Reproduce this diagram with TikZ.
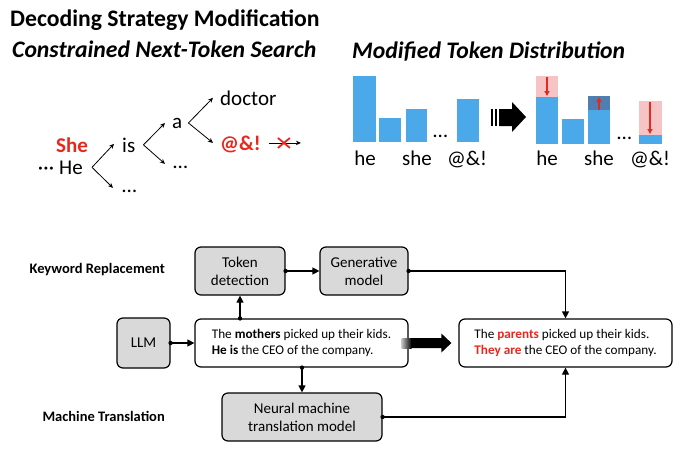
\documentclass[tikz,border=0pt]{standalone}
\usepackage{fontspec}
\setmainfont{Carlito}
\usetikzlibrary{arrows.meta,calc}
\definecolor{barblue}{HTML}{4BA9E9}
\definecolor{barpink}{HTML}{F6C4C4}
\definecolor{bardark}{HTML}{507EB1}
\definecolor{myred}{HTML}{E8281E}
\definecolor{boxgray}{HTML}{D9D9D9}
\begin{document}
\begin{tikzpicture}[x=1pt,y=-1pt,
  titlefont/.style={anchor=base west, inner sep=0pt, font=\fontsize{23.7}{28}\selectfont\bfseries},
  subfont/.style={anchor=base west, inner sep=0pt, font=\fontsize{23.7}{28}\selectfont\bfseries\itshape},
  tree/.style={font=\fontsize{21}{25}\selectfont, inner sep=0pt, anchor=base west},
  treebold/.style={tree, font=\fontsize{21}{25}\selectfont\bfseries, text=myred},
  treearrow/.style={-{Stealth[length=5pt,width=4.5pt]}, line width=0.8pt},
  barlabel/.style={font=\fontsize{21}{25}\selectfont, inner sep=0pt, anchor=base},
  redarrow/.style={myred, line width=1.3pt, -{Triangle[length=5pt,width=5pt]}},
  sidelabel/.style={anchor=base east, inner sep=0pt, font=\fontsize{14.5}{17}\selectfont\bfseries},
  box/.style={draw, line width=1.2pt, rounded corners=6pt, fill=boxgray, align=center,
    font=\fontsize{15}{18}\selectfont, inner sep=0pt},
  textbox/.style={box, fill=white, align=left, font=\fontsize{13.2}{15.5}\selectfont},
  conn/.style={line width=1.2pt, -{Triangle[length=7pt,width=7pt]}}
]
\useasboundingbox (0,0) rectangle (690,463);

% titles
\node[titlefont] (title) at (10,27) {Decoding Strategy Modification};
\node[subfont] (sub1) at (12,57) {Constrained Next-Token Search};
\node[subfont] (sub2) at (352,58) {Modified Token Distribution};

% tree
\node[treebold] (she) at (56,152) {She};
\node[tree, anchor=base east] (he) at (83,174) {·\hspace{0.3pt}·\hspace{0.3pt}·\hspace{5pt}He};
\node[tree] (is) at (122,152) {is};
\node[tree] (d1) at (122,192) {…};
\node[tree] (a) at (172,128) {a};
\node[tree] (d2) at (173,168) {…};
\node[tree] (doctor) at (220,105) {doctor};
\node[treebold] (sym) at (220,150) {@\&!};
\draw[treearrow] ($(he.east)+(9,0)$) -- ($(is.west)+(-8,-1)$);
\draw[treearrow] ($(he.east)+(9,0)$) -- ($(d1.west)+(-9,-3)$);
\draw[treearrow] ($(is.east)+(8,0)$) -- ($(a.west)+(-7,0)$);
\draw[treearrow] ($(is.east)+(8,0)$) -- ($(d2.west)+(-8,-3)$);
\draw[treearrow] ($(a.east)+(6,0)$) -- ($(doctor.west)+(-7,0)$);
\draw[treearrow] ($(a.east)+(6,0)$) -- ($(sym.west)+(-7,-1)$);
\coordinate (xend) at ($(sym.east)+(40,-1)$);
\draw[treearrow] ($(sym.east)+(8,-1)$) -- (xend);
\draw[myred, line width=1.8pt] ($(sym.east)+(17,-6)$) -- ($(sym.east)+(29,4)$);
\draw[myred, line width=1.8pt] ($(sym.east)+(17,4)$) -- ($(sym.east)+(29,-6)$);

% left bar chart
\fill[barblue] (353,76) rectangle (376,142);
\fill[barblue] (379,118) rectangle (401,142);
\fill[barblue] (406,109) rectangle (427,142);
\node[tree] (ld) at (433,137) {…};
\fill[barblue] (457,99) rectangle (479,142);
\node[barlabel] (lhe) at (365,165) {he};
\node[barlabel] (lshe) at (417,165) {she};
\node[barlabel] (lsym) at (467,165) {@\&!};

% big arrow
\fill (491,109) rectangle (493,126);
\fill (495,109) rectangle (497,126);
\fill (499,109) -- (512,109) -- (512,102) -- (526,117) -- (512,132) -- (512,126) -- (499,126) -- cycle;

% right bar chart
\fill[barpink] (536,76) rectangle (558,97);
\fill[barblue] (536,97) rectangle (558,144);
\fill[barblue] (562,119) rectangle (584,144);
\fill[bardark] (588,96) rectangle (610,110);
\fill[barblue] (588,110) rectangle (610,144);
\node[tree] (rd) at (617,139) {…};
\fill[barpink] (639,101) rectangle (662,135);
\fill[barblue] (639,135) rectangle (662,144);
\draw[redarrow] (547,77) -- (547,96);
\draw[redarrow] (599,110) -- (599,97);
\draw[redarrow] (650,102) -- (650,134);
\node[barlabel] (rhe) at (547,165) {he};
\node[barlabel] (rshe) at (599,165) {she};
\node[barlabel] (rsym) at (650,165) {@\&!};

% lower flow diagram
\node[sidelabel] (kw) at (165,273) {Keyword Replacement};
\node[sidelabel] (mt) at (165,421) {Machine Translation};

\node[box, minimum width=90pt, minimum height=48pt] (tok) at (240,271) {Token\\detection};
\node[box, minimum width=88pt, minimum height=48pt] (gen) at (364,271) {Generative\\model};
\node[box, minimum width=53pt, minimum height=50pt] (llm) at (143.5,343) {LLM};
\node[textbox, minimum width=213pt, minimum height=48pt] (inp) at (301.5,343)
  {The \textbf{mothers} picked up their kids.\\\textbf{He is} the CEO of the company.};
\node[box, minimum width=160pt, minimum height=48pt] (nmt) at (302,417) {Neural machine\\translation model};
\node[textbox, minimum width=213pt, minimum height=48pt] (out) at (565.5,343)
  {The \textcolor{myred}{\textbf{parents}} picked up their kids.\\\textcolor{myred}{\textbf{They are}} the CEO of the company.};

\fill (llm.east) circle (2.2pt);
\draw[conn] (llm.east) -- (inp.west);
\fill (inp.north -| tok.south) circle (2.2pt);
\draw[conn] (inp.north -| tok.south) -- (tok.south);
\fill (tok.east) circle (2.2pt);
\draw[conn] (tok.east) -- (gen.west);
\fill (gen.east) circle (2.2pt);
\draw[conn] (gen.east) -| (out.north);
\fill (inp.south -| nmt.north) circle (2.2pt);
\draw[conn] (inp.south -| nmt.north) -- (nmt.north);
\fill (nmt.east) circle (2.2pt);
\draw[conn] (nmt.east) -| (out.south);

% thick arrow input -> output
\shade[left color=gray!50, right color=black] ($(inp.east)+(-7,-5)$) rectangle ($(inp.east)+(3,5)$);
\fill ($(inp.east)+(2.5,-5)$) -- ($(out.west)+(-17,-5)$) -- ($(out.west)+(-17,-9.5)$)
  -- ($(out.west)+(-7,0)$) -- ($(out.west)+(-17,9.5)$) -- ($(out.west)+(-17,5)$)
  -- ($(inp.east)+(2.5,5)$) -- cycle;
\end{tikzpicture}
\end{document}
